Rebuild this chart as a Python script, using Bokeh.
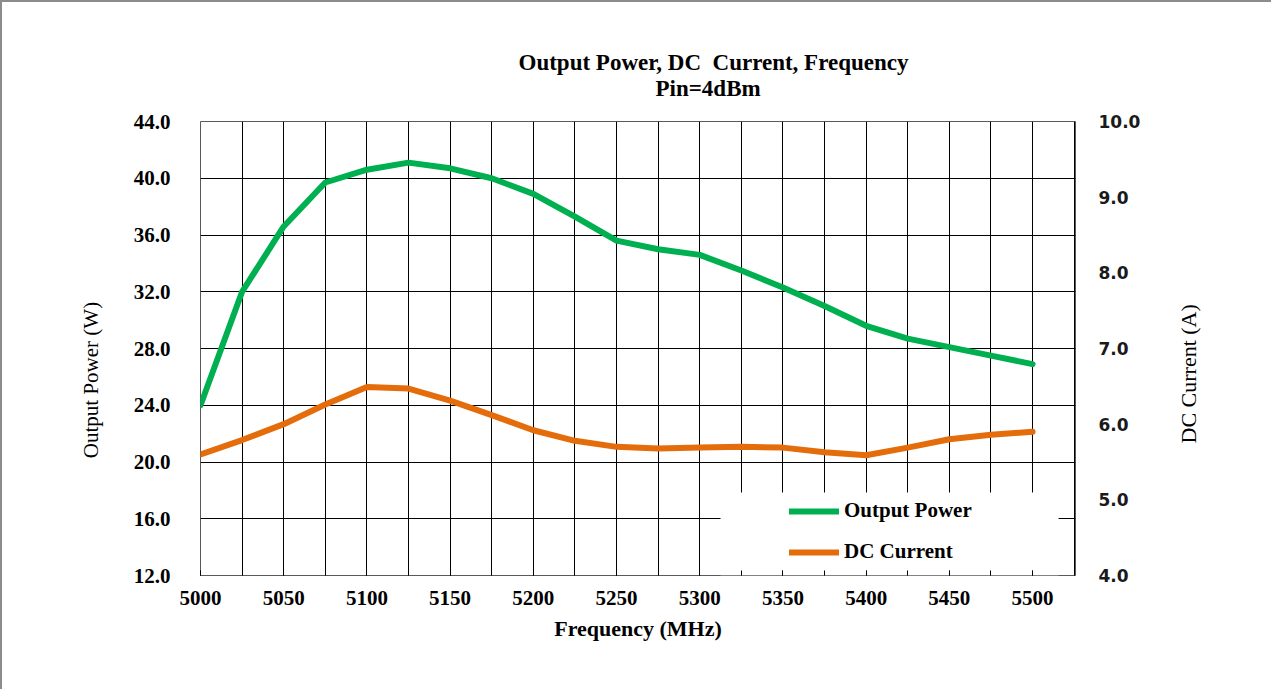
import math
from bokeh.plotting import figure
from bokeh.models import (Range1d, LinearAxis, FixedTicker, SingleIntervalTicker,
                          NumeralTickFormatter, Title, BoxAnnotation, Legend, LegendItem)
from bokeh.embed import file_html
from bokeh.resources import INLINE

# ---------------- data ----------------
freq_mhz = [5000, 5025, 5050, 5075, 5100, 5125, 5150, 5175, 5200, 5225, 5250,
            5275, 5300, 5325, 5350, 5375, 5400, 5425, 5450, 5475, 5500]
output_power_w = [24.0, 32.0, 36.6, 39.7, 40.6, 41.1, 40.7, 40.0, 38.9, 37.3, 35.6,
                  35.0, 34.6, 33.5, 32.3, 31.0, 29.6, 28.7, 28.1, 27.5, 26.9]
dc_current_a = [5.60, 5.79, 6.00, 6.26, 6.49, 6.47, 6.31, 6.12, 5.92, 5.78, 5.70,
                5.68, 5.69, 5.70, 5.69, 5.63, 5.59, 5.69, 5.80, 5.86, 5.90]

left_ticks = [12, 16, 20, 24, 28, 32, 36, 40, 44]
right_ticks = [4, 5, 6, 7, 8, 9, 10]

NBSP = "\u00a0"
title_line1 = "Output Power, DC" + NBSP + " Current, Frequency"
title_line2 = "Pin=4dBm"
x_label = "Frequency (MHz)"
left_label = "Output Power (W)"
right_label = "DC Current (A)"

GREEN = "#00B050"
ORANGE = "#E46C0A"
SERIF = "Liberation Serif"

p = figure(width=1271, height=689, output_backend="svg", toolbar_location=None,
           x_range=Range1d(5000, 5525.8), y_range=Range1d(12, 44),
           min_border_left=198, min_border_right=198, min_border_top=119,
           min_border_bottom=116)
p.extra_y_ranges = {"dc": Range1d(4, 10)}
p.outline_line_color = "#595959"
p.outline_line_width = 1
p.background_fill_color = "white"
p.border_fill_color = "white"
p.styles = {"border-left": "2px solid #8c8c8c", "border-top": "2px solid #8c8c8c"}

# x axis
xa = p.xaxis[0]
xa.ticker = SingleIntervalTicker(interval=50, num_minor_ticks=2)
xa.axis_line_color = None
xa.major_tick_in = 5
xa.major_tick_out = 0
xa.minor_tick_in = 5
xa.minor_tick_out = 0
xa.major_tick_line_color = "black"
xa.minor_tick_line_color = "black"
xa.major_label_standoff = 15
xa.major_label_text_font = SERIF
xa.major_label_text_font_style = "bold"
xa.major_label_text_font_size = "21px"
xa.major_label_text_color = "black"
xa.axis_label = x_label
xa.axis_label_text_font = SERIF
xa.axis_label_text_font_style = "bold"
xa.axis_label_text_font_size = "22px"
xa.axis_label_text_color = "black"
xa.axis_label_standoff = 8

# left axis
ya = p.yaxis[0]
ya.ticker = FixedTicker(ticks=left_ticks)
ya.formatter = NumeralTickFormatter(format="0.0")
ya.axis_line_color = None
ya.major_tick_line_color = None
ya.minor_tick_line_color = None
ya.major_label_standoff = 24
ya.major_label_text_font = SERIF
ya.major_label_text_font_style = "bold"
ya.major_label_text_font_size = "21px"
ya.major_label_text_color = "black"
ya.axis_label = left_label + NBSP * 12
ya.axis_label_text_font = SERIF
ya.axis_label_text_font_style = "normal"
ya.axis_label_text_font_size = "21px"
ya.axis_label_text_color = "black"
ya.axis_label_standoff = 28

# right axis with tick labels
ra = LinearAxis(y_range_name="dc", ticker=FixedTicker(ticks=right_ticks),
                formatter=NumeralTickFormatter(format="0.0"))
ra.axis_line_color = None
ra.major_tick_line_color = None
ra.minor_tick_line_color = None
ra.major_label_standoff = 17
ra.major_label_text_font = "DejaVu Sans"
ra.major_label_text_font_style = "bold"
ra.major_label_text_font_size = "17px"
ra.major_label_text_color = "#1a1a1a"
p.add_layout(ra, "right")

# second right axis carrying only the rotated title
rt = LinearAxis(y_range_name="dc", ticker=FixedTicker(ticks=[]))
rt.axis_line_color = None
rt.major_tick_line_color = None
rt.minor_tick_line_color = None
rt.major_label_text_font_size = "1px"
rt.major_label_standoff = 0
rt.axis_label = right_label
rt.axis_label_text_font = SERIF
rt.axis_label_text_font_style = "normal"
rt.axis_label_text_font_size = "22px"
rt.axis_label_text_color = "black"
rt.axis_label_standoff = 45
axis_props = LinearAxis.properties()
if "axis_label_orientation" in axis_props:
    rt.axis_label_orientation = math.pi / 2
if "axis_label_align" in axis_props:
    rt.axis_label_align = "start"
    rt.axis_label = NBSP * 24 + right_label
p.add_layout(rt, "right")

# grids
p.xgrid.ticker = SingleIntervalTicker(interval=25)
p.xgrid.grid_line_color = "black"
p.xgrid.grid_line_width = 1
p.ygrid.ticker = FixedTicker(ticks=left_ticks)
p.ygrid.grid_line_color = "black"
p.ygrid.grid_line_width = 1

# white legend backdrop
p.add_layout(BoxAnnotation(left=5312.5, right=5515.6, bottom=12, top=17.85,
                           fill_color="white", fill_alpha=1.0, line_color=None,
                           level="underlay"))

# series
r1 = p.line(freq_mhz, output_power_w, line_color=GREEN, line_width=6,
            line_cap="round", line_join="round")
r2 = p.line(freq_mhz, dc_current_a, line_color=ORANGE, line_width=6,
            line_cap="round", line_join="round", y_range_name="dc")

legend = Legend(items=[LegendItem(label="Output Power", renderers=[r1]),
                       LegendItem(label="DC Current", renderers=[r2])],
                location=(589, 11), padding=0, margin=0, spacing=16,
                glyph_width=50, glyph_height=20, label_height=20,
                label_standoff=5, border_line_alpha=0, background_fill_alpha=0,
                label_text_font=SERIF, label_text_font_style="bold",
                label_text_font_size="21px", label_text_color="black")
p.add_layout(legend, "center")

# two-line title (first added sits nearest the frame)
p.add_layout(Title(text=NBSP, standoff=0, text_font=SERIF,
                   text_font_size="17px"), "above")
p.add_layout(Title(text=title_line2, align="left", offset=455, standoff=0,
                   text_line_height=1.0,
                   text_font=SERIF, text_font_style="bold", text_font_size="23px",
                   text_color="black"), "above")
t1 = Title(text=title_line1, align="left", offset=318, standoff=0,
           vertical_align="top",
           text_font=SERIF, text_font_style="bold", text_font_size="23px",
           text_color="black")
try:
    t1.standoff = -6
except Exception:
    t1.standoff = 0
p.add_layout(t1, "above")

open("out.html", "w").write(file_html(p, INLINE))
